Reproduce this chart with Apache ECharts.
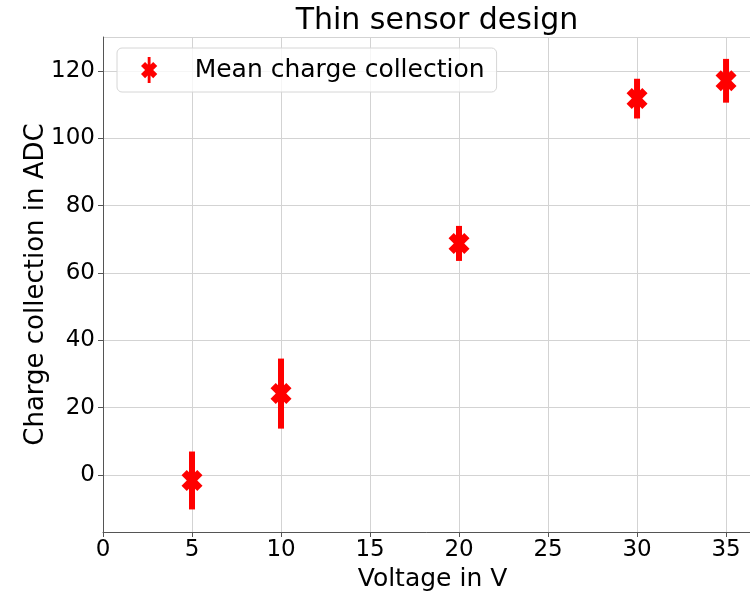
<!DOCTYPE html>
<html>
<head>
<meta charset="utf-8">
<script src="https://cdn.jsdelivr.net/npm/echarts@6/dist/echarts.min.js"></script>
<style>
  html, body { margin: 0; padding: 0; background: #fff; }
  #chart { width: 750px; height: 591px; }
</style>
</head>
<body>
<div id="chart"></div>
<script>
  // measured values (voltage in V, mean charge in ADC, error half-width)
  const voltage = [5, 10, 20, 30, 35];
  const meanCharge = [-1.6, 24.2, 68.8, 111.8, 117.1];
  const chargeErr = [8.6, 10.4, 5.2, 5.9, 6.5];

  const xTicks = [0, 5, 10, 15, 20, 25, 30, 35];
  const yTicks = [0, 20, 40, 60, 80, 100, 120];

  const FONT = 'DejaVu Sans';
  const RED = '#ff0000';
  // matplotlib style filled "X" marker
  const xMarker = 'path://M-1,-2L0,-1L1,-2L2,-1L1,0L2,1L1,2L0,1L-1,2L-2,1L-1,0L-2,-1Z';
  const legendIcon = 'path://M-0.35,-3.2L0.35,-3.2L0.35,3.2L-0.35,3.2Z M-1,-2L0,-1L1,-2L2,-1L1,0L2,1L1,2L0,1L-1,2L-2,1L-1,0L-2,-1Z';

  const points = voltage.map(function (v, i) { return [v, meanCharge[i]]; });
  const bars = voltage.map(function (v, i) {
    return [v, meanCharge[i] - chargeErr[i], meanCharge[i] + chargeErr[i]];
  });

  var chart = echarts.init(document.getElementById('chart'), null, { renderer: 'canvas' });

  var option = {
    animation: false,
    backgroundColor: '#ffffff',
    title: {
      text: 'Thin sensor design',
      left: 432,
      textAlign: 'center',
      top: 1,
      textStyle: { fontFamily: FONT, fontSize: 30, fontWeight: 'normal', color: '#000' }
    },
    legend: {
      data: [{ name: 'Mean charge collection', icon: legendIcon }],
      left: 117,
      top: 48,
      itemWidth: 17,
      itemHeight: 26,
      padding: [9, 12, 9, 24],
      backgroundColor: 'rgba(255,255,255,0.8)',
      borderColor: '#d6d6d6',
      borderWidth: 1,
      borderRadius: 5,
      formatter: '{t|{name}}',
      textStyle: {
        fontFamily: FONT,
        fontSize: 25,
        color: '#000',
        rich: { t: { fontFamily: FONT, fontSize: 25, color: '#000', padding: [0, 0, 0, 32] } }
      }
    },
    // the plot frame runs a little past the right edge of the picture
    grid: { left: 103, right: -12, top: 37, bottom: 59, containLabel: false, outerBoundsMode: 'none' },
    xAxis: {
      type: 'value',
      min: 0,
      max: 37.02,
      interval: 5,
      name: 'Voltage in V',
      nameLocation: 'middle',
      nameGap: 29,
      nameTextStyle: { fontFamily: FONT, fontSize: 25, color: '#000' },
      axisLine: { show: true, onZero: false, lineStyle: { color: '#555', width: 1 } },
      axisTick: { show: true, length: 5, lineStyle: { color: '#555' } },
      axisLabel: {
        fontFamily: FONT, fontSize: 23, color: '#000', margin: 7,
        showMaxLabel: false,
        formatter: function (v) { return xTicks.indexOf(v) >= 0 ? String(v) : ''; }
      },
      splitLine: { show: true, lineStyle: { color: '#d3d3d3', width: 1 } }
    },
    yAxis: {
      type: 'value',
      min: -16.9,
      max: 130.1,
      splitNumber: 7,
      name: 'Charge collection in ADC',
      nameLocation: 'middle',
      nameGap: 54,
      nameMoveOverlap: false,
      nameTextStyle: { fontFamily: FONT, fontSize: 26, color: '#000' },
      axisLine: { show: true, onZero: false, lineStyle: { color: '#555', width: 1 } },
      axisTick: { show: true, length: 5, lineStyle: { color: '#555' } },
      axisLabel: {
        fontFamily: FONT, fontSize: 23, color: '#000', margin: 8,
        showMinLabel: false, showMaxLabel: false,
        formatter: function (v) { return yTicks.indexOf(v) >= 0 ? String(v) : ''; }
      },
      splitLine: { show: true, lineStyle: { color: '#d3d3d3', width: 1 } }
    },
    series: [
      {
        name: 'errorbars',
        type: 'custom',
        data: bars,
        z: 3,
        renderItem: function (params, api) {
          var lo = api.coord([api.value(0), api.value(1)]);
          var hi = api.coord([api.value(0), api.value(2)]);
          return {
            type: 'line',
            shape: { x1: lo[0], y1: lo[1], x2: hi[0], y2: hi[1] },
            style: { stroke: RED, lineWidth: 6 }
          };
        }
      },
      {
        name: 'Mean charge collection',
        type: 'scatter',
        data: points,
        symbol: xMarker,
        symbolSize: 21,
        z: 4,
        itemStyle: { color: RED, opacity: 1 }
      }
    ]
  };

  chart.setOption(option);
  window.addEventListener('resize', chart.resize);
</script>
</body>
</html>
